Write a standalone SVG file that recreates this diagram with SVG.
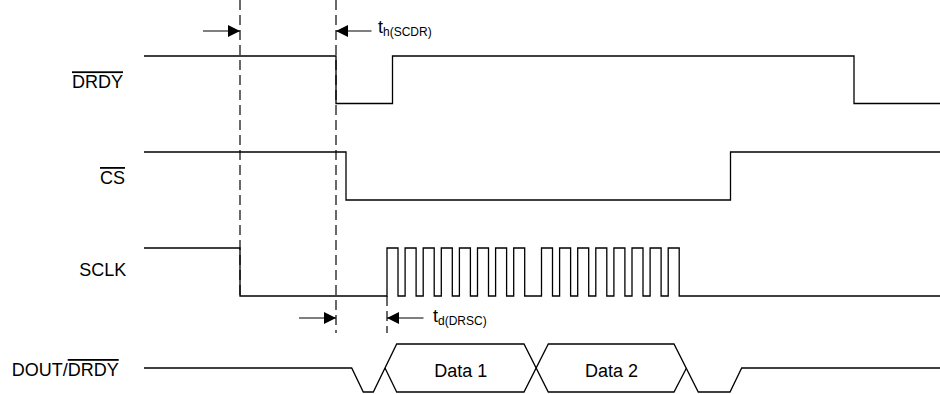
<svg xmlns="http://www.w3.org/2000/svg" width="940" height="394" viewBox="0 0 940 394">
  <style>
    .wave { fill: none; stroke: #000; stroke-width: 1.3; stroke-linejoin: miter; }
    .dash { fill: none; stroke: #1a1a1a; stroke-width: 1.3; stroke-dasharray: 10 5; }
    .dim { fill: none; stroke: #000; stroke-width: 1.2; }
    .lbl { font-family: "Liberation Sans", Arial, sans-serif; font-size: 18px; fill: #000; }
    .sub { font-size: 12px; }
    .ov { text-decoration: overline; }
  </style>
  <defs>
    <marker id="ah" markerUnits="userSpaceOnUse" markerWidth="12" markerHeight="12" viewBox="0 0 12 12" refX="12" refY="6" orient="auto">
      <path d="M0,0 L12,6 L0,12 Z" fill="#000"/>
    </marker>
  </defs>

  <g id="labels">
    <text class="lbl" x="72" y="88.3"><tspan class="ov">DRDY</tspan></text>
    <text class="lbl" x="100" y="184"><tspan class="ov">CS</tspan></text>
    <text class="lbl" x="79.3" y="276">SCLK</text>
    <text class="lbl" x="11.7" y="376">DOUT/<tspan class="ov">DRDY</tspan></text>
  </g>

  <g id="guides">
    <line class="dash" x1="240" y1="0" x2="240" y2="296"/>
    <line class="dash" x1="336" y1="0" x2="336" y2="333"/>
    <line class="dash" x1="387" y1="296" x2="387" y2="333"/>
  </g>

  <g id="drdy">
    <path class="wave" d="M144,56 H336 V103.5 H392.5 V56 H854 V103.5 H940"/>
  </g>
  <g id="cs">
    <path class="wave" d="M144,152 H346 V200 H730.5 V152 H940"/>
  </g>
  <g id="sclk">
    <path class="wave" d="M144,248 H240 V296 H387 V248 H398 V296 H405.1 V248 H416.1 V296 H423.2 V248 H434.2 V296 H441.3 V248 H452.3 V296 H459.4 V248 H470.4 V296 H477.5 V248 H488.5 V296 H495.6 V248 H506.6 V296 H513.7 V248 H524.7 V296 H541.5 V248 H552.5 V296 H559.6 V248 H570.6 V296 H577.7 V248 H588.7 V296 H595.8 V248 H606.8 V296 H613.9 V248 H624.9 V296 H632 V248 H643 V296 H650.1 V248 H661.1 V296 H668.2 V248 H679.2 V296 H940"/>
  </g>
  <g id="dout">
    <path class="wave" d="M144,368 H351.7 L363.3,392 H373.3 L396.7,344 H524 L548.3,392 H674 L686.5,368"/>
    <path class="wave" d="M385,368 L396.7,392 H524 L548.3,344 H674 L698.3,392 H730 L741.7,368 H940"/>
    <text class="lbl" x="460.7" y="376.5" text-anchor="middle">Data 1</text>
    <text class="lbl" x="611.5" y="376.5" text-anchor="middle">Data 2</text>
  </g>

  <g id="connectors">
    <line class="dim" x1="203" y1="31" x2="240" y2="31" marker-end="url(#ah)"/>
    <line class="dim" x1="371.5" y1="31" x2="336" y2="31" marker-end="url(#ah)"/>
    <line class="dim" x1="299" y1="318" x2="336" y2="318" marker-end="url(#ah)"/>
    <line class="dim" x1="423.5" y1="318" x2="387" y2="318" marker-end="url(#ah)"/>
  </g>

  <g id="timing-labels">
    <text class="lbl" x="378" y="33">t<tspan class="sub" dy="3">h(SCDR)</tspan></text>
    <text class="lbl" x="433" y="322">t<tspan class="sub" dy="3">d(DRSC)</tspan></text>
  </g>
</svg>
